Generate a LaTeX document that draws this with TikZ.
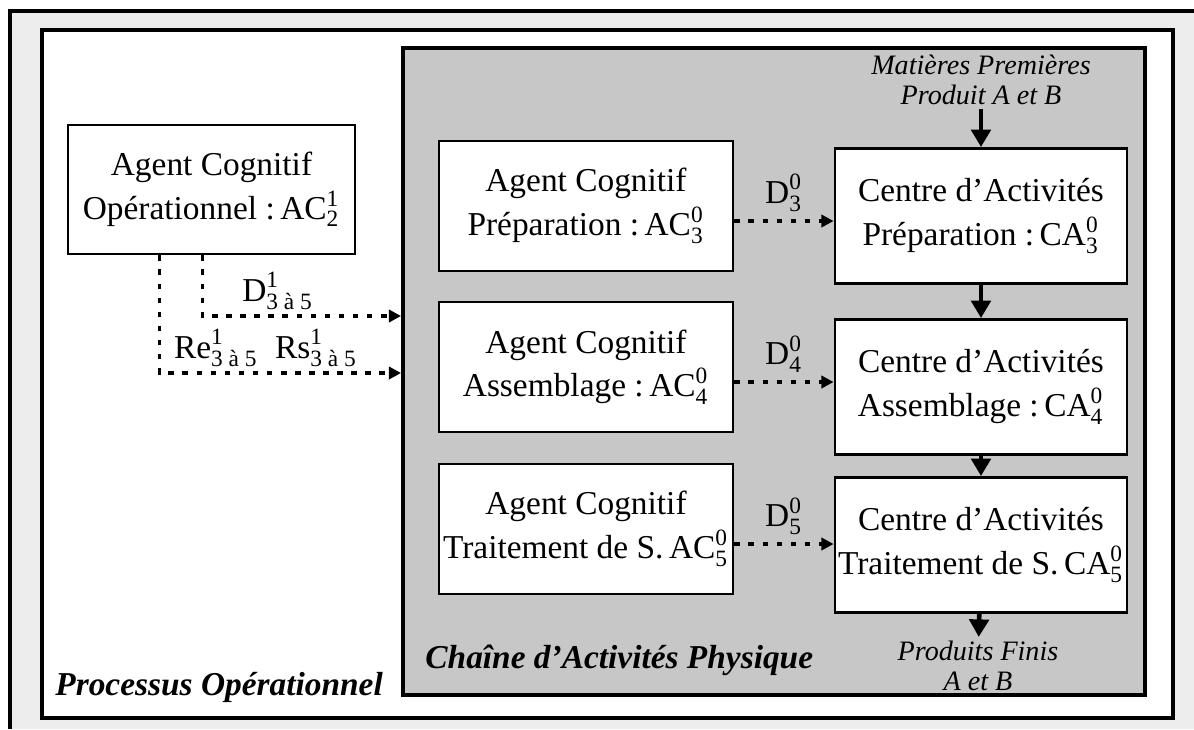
\documentclass[tikz,border=0pt]{standalone}
\usepackage{amsmath}
\usepackage{fontspec}
\setmainfont{Liberation Serif}
\usepackage{tikz}
\usetikzlibrary{arrows.meta, positioning}
\newcommand{\supsub}[2]{\ensuremath{^{\text{#1}}_{\text{#2}}}}

\begin{document}
\begin{tikzpicture}[
  font=\fontsize{9.5}{12.5}\selectfont,
  box/.style={draw, line width=0.8pt, fill=white, minimum width=2.94cm, minimum height=1.30cm, align=center, inner sep=1pt},
  cabox/.style={box, minimum width=2.92cm, minimum height=1.35cm, inner sep=0pt},
  frame/.style={draw, line width=1.1pt},
  lbl/.style={font=\fontsize{9.5}{12}\selectfont\bfseries\itshape, anchor=west},
  flow/.style={font=\fontsize{8}{8.5}\selectfont\itshape, align=center, inner sep=1pt},
  darr/.style={-{Triangle[length=3.5pt, width=3.5pt]}, line width=0.9pt, dash pattern=on 1.6pt off 2.4pt},
  arr/.style={-{Triangle[length=5pt, width=5.5pt]}, line width=1.3pt}
]
  \useasboundingbox (0,0) rectangle (11.94,-7.29);

  % Sheet and frames
  \fill[black!7] (0.10,-0.11) rectangle (11.94,-7.29);
  \draw[line width=0.9pt] (11.94,-0.11) -| (0.10,-7.29);
  \node[frame, fill=white, minimum width=11.31cm, minimum height=6.88cm] (proc) at (6.075,-3.74) {};
  \node[frame, fill=black!22, minimum width=7.42cm, minimum height=6.47cm] (chaine) at (7.74,-3.715) {};

  % Operational agent
  \node[box, minimum width=2.87cm, minimum height=1.29cm] (ac2) at (2.115,-1.895) {Agent Cognitif\\Opérationnel :\,AC\supsub{1}{2}};

  % Cognitive agents (left column)
  \node[box] (ac3) at (5.86,-2.06) {Agent Cognitif\\Préparation :\,AC\supsub{0}{3}};
  \node[box] (ac4) at (5.86,-3.67) {Agent Cognitif\\Assemblage :\,AC\supsub{0}{4}};
  \node[box] (ac5) at (5.86,-5.29) {Agent Cognitif\\Traitement de S.\,AC\supsub{0}{5}};

  % Activity centres (right column)
  \node[cabox] (ca3) at (9.81,-2.16) {Centre d'Activités\\Préparation :\,CA\supsub{0}{3}};
  \node[cabox] (ca4) at (9.81,-3.87) {Centre d'Activités\\Assemblage :\,CA\supsub{0}{4}};
  \node[cabox] (ca5) at (9.81,-5.45) {Centre d'Activités\\Traitement de S.\,CA\supsub{0}{5}};

  % Material in / products out
  \node[flow] (mp) at (9.81,-0.80) {Matières Premières\\Produit A et B};
  \node[flow] (pf) at (9.78,-6.66) {Produits Finis\\A et B};

  \draw[arr] (mp) -- (ca3);
  \draw[arr] (ca3) -- (ca4);
  \draw[arr] (ca4) -- (ca5);
  \draw[arr] (ca5) -- (pf);

  % Decisions to the activity centres
  \draw[darr] ([yshift=-1.5mm]ac3.east) -- ([yshift=-1.5mm]ac3.east -| ca3.west) node[midway, above=-1pt] {D\supsub{0}{3}};
  \draw[darr] ([yshift=-1.5mm]ac4.east) -- ([yshift=-1.5mm]ac4.east -| ca4.west) node[midway, above=-1pt] {D\supsub{0}{4}};
  \draw[darr] ([yshift=-1.5mm]ac5.east) -- ([yshift=-1.5mm]ac5.east -| ca5.west) node[midway, above=-1pt] {D\supsub{0}{5}};

  % Operational agent to the chain
  \draw[darr] ([xshift=-0.9mm]ac2.south) |- ([yshift=5.55mm]chaine.west) node[pos=0.69, above=-2pt] {D\supsub{1}{3 à 5}};
  \draw[darr] ([xshift=-5.2mm]ac2.south) |- ([yshift=-0.15mm]chaine.west) node[pos=0.72, above=-2pt] {Re\supsub{1}{3 à 5}\hspace{0.5em}Rs\supsub{1}{3 à 5}};

  % Titles
  \node[lbl] (tchaine) at (4.13,-6.60) {Chaîne d'Activités Physique};
  \node[lbl] (tproc) at (0.43,-6.87) {Processus Opérationnel};
\end{tikzpicture}
\end{document}
